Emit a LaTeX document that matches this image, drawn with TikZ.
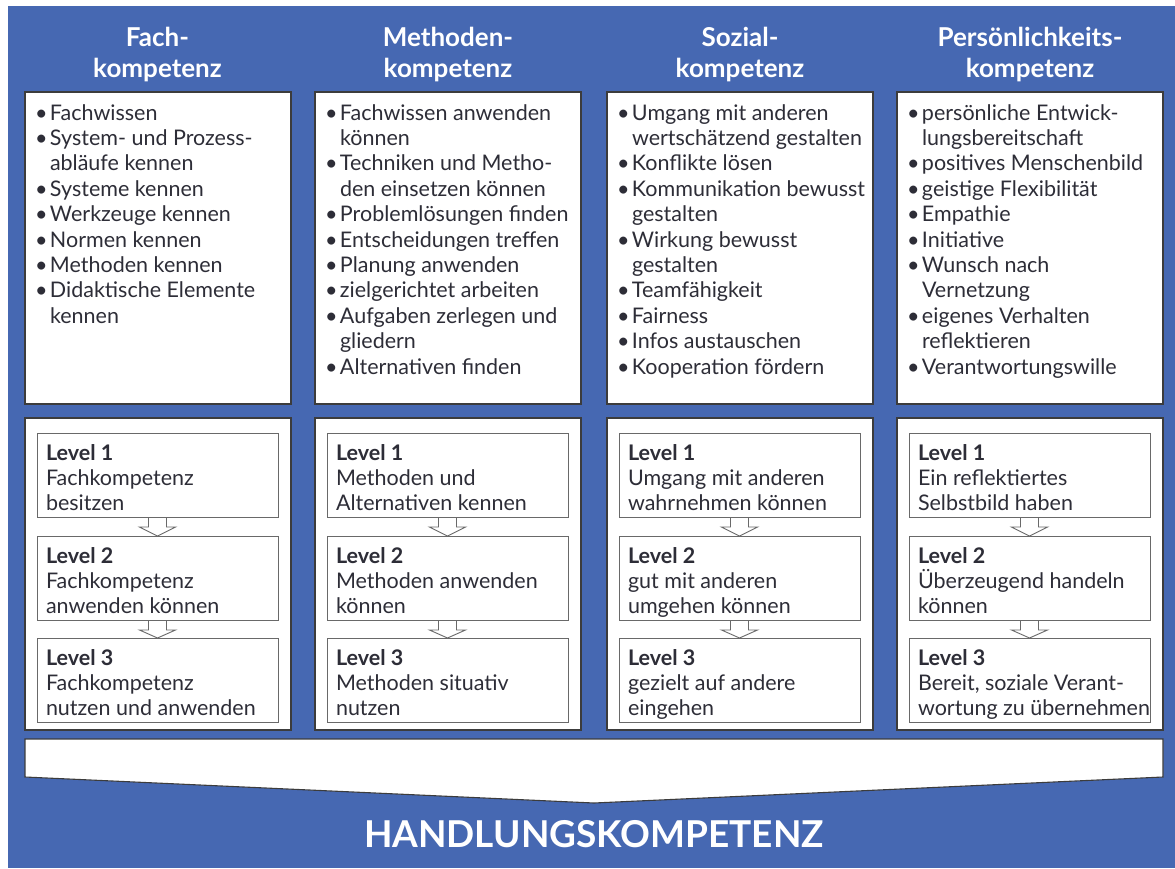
\documentclass[tikz,border=0pt]{standalone}
\usepackage{fontspec}
\setmainfont{Lato}
\usetikzlibrary{calc}
\definecolor{bgblue}{RGB}{70,104,178}
\definecolor{txt}{RGB}{45,45,55}
\definecolor{boxline}{RGB}{60,60,60}
\definecolor{lvlline}{RGB}{105,105,105}
\newcommand\bi[1]{\makebox[15pt][l]{\textbullet}#1}
\newcommand\ci[1]{\hspace*{15pt}#1}
\newcommand\fs{\rule{0pt}{18pt}}
\newcommand\lst{\rule{0pt}{19pt}}
\newcommand\hst{\rule{0pt}{20pt}}
\newcommand\blockarr[2]{%
  \draw[arrline] ($(#1.south)+(-9,0)$) -- ($(#1.south)+(-9,10)$) -- ($(#1.south)+(-18,10)$)
    -- (#2.north) -- ($(#1.south)+(18,10)$) -- ($(#1.south)+(9,10)$) -- ($(#1.south)+(9,0)$);}
\begin{document}
\begin{tikzpicture}[x=1pt,y=-1pt,
  every node/.style={inner sep=0pt, outer sep=0pt},
  outerbox/.style={draw=boxline, line width=1.1pt, fill=white, anchor=north west, minimum width=266pt, minimum height=312pt},
  lvlbox/.style={draw=lvlline, line width=0.9pt, fill=white, anchor=north west, minimum width=241pt, minimum height=84pt},
  head/.style={text=white, font=\bfseries\fontsize{26}{31}\selectfont, align=center, anchor=north},
  item/.style={text=txt, font=\fontsize{21.5}{25.4}\selectfont, align=left, anchor=north west},
  lvl/.style={text=txt, font=\fontsize{21.5}{25}\selectfont, align=left, anchor=north west},
  arrline/.style={draw=lvlline, line width=0.9pt}]
\useasboundingbox (0,0) rectangle (1175,868);
\fill[bgblue] (8,6) rectangle (1175,868);

% headers
\node[head] (h1) at (157.5,26) {\hst Fach-\\kompetenz};
\node[head] (h2) at (448,26) {\hst Methoden-\\kompetenz};
\node[head] (h3) at (740,26) {\hst Sozial-\\kompetenz};
\node[head] (h4) at (1030,26) {\hst Persönlichkeits-\\kompetenz};

% top boxes
\node[outerbox] (c1top) at (25,92) {};
\node[outerbox] (c2top) at (315,92) {};
\node[outerbox] (c3top) at (607,92) {};
\node[outerbox] (c4top) at (897,92) {};

\node[item] (t1) at ($(c1top.north west)+(10,10)$) {\fs\bi{Fachwissen}\\
\bi{System- und Prozess-}\\ \ci{abläufe kennen}\\ \bi{Systeme kennen}\\ \bi{Werkzeuge kennen}\\
\bi{Normen kennen}\\ \bi{Methoden kennen}\\ \bi{Didaktische Elemente}\\ \ci{kennen}};
\node[item] (t2) at ($(c2top.north west)+(10,10)$) {\fs\bi{Fachwissen anwenden}\\
\ci{können}\\ \bi{Techniken und Metho-}\\ \ci{den einsetzen können}\\ \bi{Problemlösungen finden}\\
\bi{Entscheidungen treffen}\\ \bi{Planung anwenden}\\ \bi{zielgerichtet arbeiten}\\
\bi{Aufgaben zerlegen und}\\ \ci{gliedern}\\ \bi{Alternativen finden}};
\node[item] (t3) at ($(c3top.north west)+(10,10)$) {\fs\bi{Umgang mit anderen}\\
\ci{wertschätzend gestalten}\\ \bi{Konflikte lösen}\\ \bi{Kommunikation bewusst}\\ \ci{gestalten}\\
\bi{Wirkung bewusst}\\ \ci{gestalten}\\ \bi{Teamfähigkeit}\\ \bi{Fairness}\\
\bi{Infos austauschen}\\ \bi{Kooperation fördern}};
\node[item] (t4) at ($(c4top.north west)+(10,10)$) {\fs\bi{persönliche Entwick-}\\
\ci{lungsbereitschaft}\\ \bi{positives Menschenbild}\\ \bi{geistige Flexibilität}\\ \bi{Empathie}\\
\bi{Initiative}\\ \bi{Wunsch nach}\\ \ci{Vernetzung}\\ \bi{eigenes Verhalten}\\
\ci{reflektieren}\\ \bi{Verantwortungswille}};

% bottom boxes
\node[outerbox] (c1bot) at (25,418) {};
\node[outerbox] (c2bot) at (315,418) {};
\node[outerbox] (c3bot) at (607,418) {};
\node[outerbox] (c4bot) at (897,418) {};

% level boxes
\foreach \c/\x in {1/37,2/327,3/619,4/909}{
  \node[lvlbox] (c\c l1) at (\x,433) {};
  \node[lvlbox] (c\c l2) at (\x,536) {};
  \node[lvlbox] (c\c l3) at (\x,638) {};
}

\node[lvl] (c1t1) at ($(c1l1.north west)+(9,8)$) {\lst\textbf{Level 1}\\Fachkompetenz\\besitzen};
\node[lvl] (c1t2) at ($(c1l2.north west)+(9,8)$) {\lst\textbf{Level 2}\\Fachkompetenz\\anwenden können};
\node[lvl] (c1t3) at ($(c1l3.north west)+(9,8)$) {\lst\textbf{Level 3}\\Fachkompetenz\\nutzen und anwenden};
\node[lvl] (c2t1) at ($(c2l1.north west)+(9,8)$) {\lst\textbf{Level 1}\\Methoden und\\Alternativen kennen};
\node[lvl] (c2t2) at ($(c2l2.north west)+(9,8)$) {\lst\textbf{Level 2}\\Methoden anwenden\\können};
\node[lvl] (c2t3) at ($(c2l3.north west)+(9,8)$) {\lst\textbf{Level 3}\\Methoden situativ\\nutzen};
\node[lvl] (c3t1) at ($(c3l1.north west)+(9,8)$) {\lst\textbf{Level 1}\\Umgang mit anderen\\wahrnehmen können};
\node[lvl] (c3t2) at ($(c3l2.north west)+(9,8)$) {\lst\textbf{Level 2}\\gut mit anderen\\umgehen können};
\node[lvl] (c3t3) at ($(c3l3.north west)+(9,8)$) {\lst\textbf{Level 3}\\gezielt auf andere\\eingehen};
\node[lvl] (c4t1) at ($(c4l1.north west)+(9,8)$) {\lst\textbf{Level 1}\\Ein reflektiertes\\Selbstbild haben};
\node[lvl] (c4t2) at ($(c4l2.north west)+(9,8)$) {\lst\textbf{Level 2}\\Überzeugend handeln\\können};
\node[lvl] (c4t3) at ($(c4l3.north west)+(9,8)$) {\lst\textbf{Level 3}\\Bereit, soziale Verant-\\wortung zu übernehmen};

% arrows between levels
\foreach \c in {1,2,3,4}{
  \blockarr{c\c l1}{c\c l2}
  \blockarr{c\c l2}{c\c l3}
}

% big bottom arrow
\draw[draw=boxline, line width=1.1pt, fill=white] (25,739) -- (1163,739) -- (1163,777) -- (594,803) -- (25,777) -- cycle;
\node[text=white, font=\bfseries\fontsize{37}{42}\selectfont, anchor=base] (hk) at (594,847) {HANDLUNGSKOMPETENZ};
\end{tikzpicture}
\end{document}
